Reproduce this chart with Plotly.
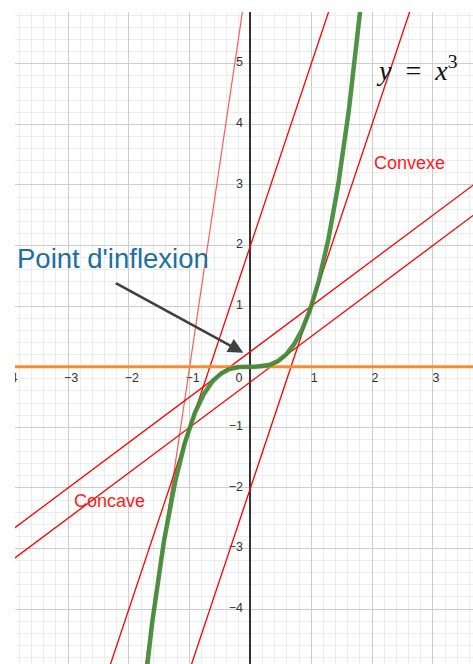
import numpy as np
import plotly.graph_objects as go

# ---- data ----
x_tick_values = [-4, -3, -2, -1, 1, 2, 3]
y_tick_values = [-4, -3, -2, -1, 1, 2, 3, 4, 5]
tangent_points = [-1.5, -1.0, -0.5, 0.5, 1.0]   # abscissas of red tangents
inflection_x = 0.0
curve_x = np.linspace(-1.8, 1.9, 400)
curve_y = curve_x ** 3                            # y = x^3

X_RANGE = [-3.873, 3.66]
Y_RANGE = [-4.906, 5.853]
PX_X = 60.8   # pixels per unit
PX_Y = 60.6

def fmt(v):
    return str(v).replace("-", "\u2212")

fig = go.Figure()

# axis tick labels (drawn below the lines)
fig.add_trace(go.Scatter(
    x=[v + 3 / PX_X for v in x_tick_values] + [-11.5 / PX_X],
    y=[-12.5 / PX_Y] * len(x_tick_values) + [-12.5 / PX_Y],
    mode="text", text=[fmt(v) for v in x_tick_values] + ["0"],
    textposition="middle center",
    textfont=dict(family="Liberation Sans, Arial", size=12.5, color="#333333"),
    hoverinfo="skip", showlegend=False))
fig.add_trace(go.Scatter(
    x=[-7.5 / PX_X] * len(y_tick_values),
    y=[v + 0.5 / PX_Y for v in y_tick_values],
    mode="text", text=[fmt(v) for v in y_tick_values],
    textposition="middle left",
    textfont=dict(family="Liberation Sans, Arial", size=12.5, color="#333333"),
    hoverinfo="skip", showlegend=False))

# tangent lines
lx = np.array([-4.2, 3.9])
for a in tangent_points:
    ly = 3 * a * a * (lx - a) + a ** 3
    light = abs(a) > 1.2
    fig.add_trace(go.Scatter(
        x=lx, y=ly, mode="lines",
        line=dict(color="#ff5c5c" if light else "#ff0000", width=1.2 if light else 1.3),
        hoverinfo="skip", showlegend=False))

# tangent at the inflection point
fig.add_trace(go.Scatter(
    x=lx, y=[inflection_x ** 3, inflection_x ** 3], mode="lines",
    line=dict(color="#ff8a2a", width=3), hoverinfo="skip", showlegend=False))

# the curve
fig.add_trace(go.Scatter(
    x=curve_x, y=curve_y, mode="lines",
    line=dict(color="#3f8a37", width=4.5), opacity=0.92,
    hoverinfo="skip", showlegend=False))

fig.add_annotation(
    x=-0.118, y=0.231, ax=-2.24, ay=1.393, axref="x", ayref="y",
    xref="x", yref="y", text="", showarrow=True,
    arrowhead=2, arrowsize=1.15, arrowwidth=2.6, arrowcolor="#404040")

fig.add_annotation(
    x=-3.84, y=1.78, xshift=-2, xref="x", yref="y", text="Point d'inflexion",
    showarrow=False, xanchor="left", yanchor="middle",
    font=dict(family="Liberation Sans, Arial", size=27.5, color="#1d6fa3"))
fig.add_annotation(
    x=1.993, y=3.36, xref="x", yref="y", text="Convexe",
    showarrow=False, xanchor="left", yanchor="middle",
    font=dict(family="Liberation Sans, Arial", size=18, color="#ff1a1a"))
fig.add_annotation(
    x=-2.931, y=-2.213, xref="x", yref="y", text="Concave",
    showarrow=False, xanchor="left", yanchor="middle",
    font=dict(family="Liberation Sans, Arial", size=18, color="#ff1a1a"))
fig.add_annotation(
    x=(374.0 - 250.5) / PX_X, y=4.92, xref="x", yref="y",
    text="<i>y</i>&nbsp;&nbsp;=&nbsp;&nbsp;<i>x</i><sup>3</sup>",
    showarrow=False, xanchor="left", yanchor="middle",
    font=dict(family="Liberation Serif, DejaVu Serif, serif", size=28, color="#111111"))

axis_common = dict(
    showgrid=True, gridcolor="#cdcdcd", gridwidth=1, dtick=1, tick0=0,
    minor=dict(dtick=0.2, showgrid=True, gridcolor="#ededed", gridwidth=1),
    showticklabels=False, ticks="", showline=False, fixedrange=True)

fig.update_xaxes(range=X_RANGE, zeroline=True, zerolinecolor="#333333",
                 zerolinewidth=1.5, **axis_common)
fig.update_yaxes(range=Y_RANGE, zeroline=True, zerolinecolor="#333333",
                 zerolinewidth=1.5, **axis_common)

fig.update_layout(
    width=473, height=664,
    margin=dict(l=15, r=0, t=12, b=0),
    paper_bgcolor="white", plot_bgcolor="white",
    showlegend=False)

fig.write_html(
    "out.html",
    config={"displayModeBar": False},
    post_script="document.body.style.margin='0';document.body.style.overflow='hidden';")
